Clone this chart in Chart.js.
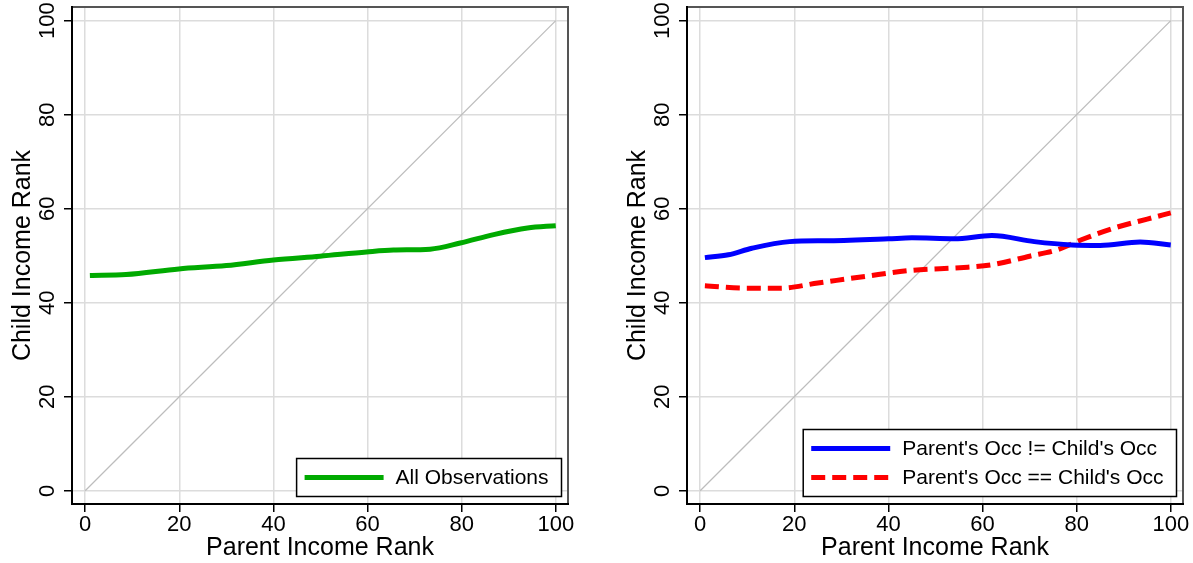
<!DOCTYPE html>
<html>
<head>
<meta charset="utf-8">
<script src="https://cdn.jsdelivr.net/npm/chart.js@4.4.1/dist/chart.umd.min.js"></script>
<style>
    body { margin: 0; background: #fff; }
    #leftChart { position: absolute; left: 0; top: 0; }
    #rightChart { position: absolute; left: 615px; top: 0; }
</style>
</head>
<body>
<canvas id="leftChart" width="596" height="563"></canvas>
<canvas id="rightChart" width="578" height="563"></canvas>
<script>
// tick values shared by both panels
const tickValues = [0, 20, 40, 60, 80, 100];

// 45 degree reference line
const diagX = [0, 100];
const diagY = [0, 100];

// left panel: all observations
const allX = [1, 8.7, 19.9, 30, 40, 49.9, 59.8, 65.5, 73.3, 79.7, 86.8, 94, 100];
const allY = [45.8, 46.0, 47.2, 47.9, 49.1, 49.9, 50.8, 51.2, 51.4, 52.7, 54.5, 55.9, 56.4];

// right panel: parent's occupation differs from child's
const diffX = [1, 6, 11, 19, 27.5, 40, 45, 54, 62, 71, 79, 85, 93.5, 100];
const diffY = [49.6, 50.2, 51.6, 53.0, 53.2, 53.6, 53.8, 53.6, 54.3, 53.0, 52.3, 52.2, 52.9, 52.3];

// right panel: same occupation
const sameX = [1, 10, 17, 25, 35, 45, 56, 62, 70, 76, 81, 88, 95, 100];
const sameY = [43.6, 43.1, 43.1, 44.2, 45.6, 46.9, 47.5, 48.1, 49.9, 51.3, 53.4, 55.9, 57.8, 59.1];

const xTitle = 'Parent Income Rank';
const yTitle = 'Child Income Rank';
const FONT = '"Liberation Sans", Arial, Helvetica, sans-serif';
const TICK_SIZE = 22;

function toPoints(xs, ys) {
    return xs.map((x, i) => ({ x: x, y: ys[i] }));
}

function diagonalDataset() {
    return {
        label: '',
        data: toPoints(diagX, diagY),
        borderColor: '#bdbdbd',
        borderWidth: 1.3,
        pointRadius: 0,
        tension: 0,
        order: 5
    };
}

// frame, rotated y tick labels and the legend box
const panelPlugin = {
    id: 'panel',
    afterDraw(chart) {
        const ctx = chart.ctx;
        const area = chart.chartArea;
        const yScale = chart.scales.y;

        ctx.save();
        // plot frame
        ctx.lineWidth = 2;
        ctx.strokeStyle = '#555';
        ctx.beginPath();
        ctx.moveTo(area.left, area.top);
        ctx.lineTo(area.right, area.top);
        ctx.lineTo(area.right, area.bottom);
        ctx.stroke();
        ctx.strokeStyle = '#000';
        ctx.beginPath();
        ctx.moveTo(area.left, area.top - 1);
        ctx.lineTo(area.left, area.bottom);
        ctx.lineTo(area.right + 1, area.bottom);
        ctx.stroke();

        // y tick labels, vertical like the original
        ctx.fillStyle = '#000';
        ctx.font = TICK_SIZE + 'px ' + FONT;
        ctx.textAlign = 'center';
        ctx.textBaseline = 'alphabetic';
        yScale.ticks.forEach(t => {
            const py = yScale.getPixelForValue(t.value);
            ctx.save();
            ctx.translate(area.left - 18.5, py);
            ctx.rotate(-Math.PI / 2);
            ctx.fillText(String(t.value), 0, 0);
            ctx.restore();
        });

        // legend in lower right corner
        const items = chart.data.datasets.filter(d => d.label);
        ctx.font = '21px ' + FONT;
        const textW = Math.max(...items.map(d => ctx.measureText(d.label).width));
        const w = 8 + 79 + 12 + textW + 13;
        const h = items.length * 29 + 9;
        const bx = area.right - 6.5 - w;
        const by = area.bottom - 7.5 - h;
        ctx.fillStyle = '#fff';
        ctx.fillRect(bx, by, w, h);
        ctx.lineWidth = 1.5;
        ctx.strokeStyle = '#000';
        ctx.strokeRect(bx, by, w, h);
        items.forEach((d, i) => {
            const cy = by + 19 + i * 29;
            ctx.beginPath();
            ctx.setLineDash(d.borderDash || []);
            ctx.lineWidth = d.borderWidth;
            ctx.strokeStyle = d.borderColor;
            ctx.moveTo(bx + 8, cy);
            ctx.lineTo(bx + 87, cy);
            ctx.stroke();
            ctx.setLineDash([]);
            ctx.fillStyle = '#000';
            ctx.textAlign = 'left';
            ctx.textBaseline = 'middle';
            ctx.fillText(d.label, bx + 99, cy + 1);
        });
        ctx.restore();
    }
};

function makeChart(canvasId, datasets, padRight) {
    const ctx = document.getElementById(canvasId).getContext('2d');
    return new Chart(ctx, {
        type: 'line',
        data: { datasets: datasets },
        options: {
            responsive: false,
            animation: false,
            layout: { padding: { top: 7, right: padRight, left: 0, bottom: 0 } },
            plugins: {
                legend: { display: false },
                tooltip: { enabled: false }
            },
            scales: {
                x: {
                    type: 'linear',
                    min: -2.8,
                    max: 102.6,
                    afterBuildTicks: scale => { scale.ticks = tickValues.map(v => ({ value: v })); },
                    afterFit: scale => { scale.height = 59; },
                    grid: { color: '#dcdcdc', lineWidth: 1.5, tickColor: '#000', tickLength: 8, tickWidth: 1.5 },
                    border: { display: false },
                    ticks: { color: '#000', font: { family: FONT, size: TICK_SIZE }, padding: 0, maxRotation: 0 },
                    title: { display: true, text: xTitle, color: '#000', font: { family: FONT, size: 25 }, padding: { top: 0, bottom: 0 } }
                },
                y: {
                    type: 'linear',
                    min: -2.8,
                    max: 102.9,
                    afterBuildTicks: scale => { scale.ticks = tickValues.map(v => ({ value: v })); },
                    afterFit: scale => { scale.width = 72; },
                    grid: { color: '#dcdcdc', lineWidth: 1.5, tickColor: '#000', tickLength: 8, tickWidth: 1.5 },
                    border: { display: false },
                    ticks: { display: false },
                    title: { display: true, text: yTitle, color: '#000', font: { family: FONT, size: 25 }, padding: { top: 8, bottom: 0 } }
                }
            },
            elements: { point: { radius: 0 } }
        },
        plugins: [panelPlugin]
    });
}

makeChart('leftChart', [
    {
        label: 'All Observations',
        data: toPoints(allX, allY),
        borderColor: '#00aa00',
        borderWidth: 5,
        pointRadius: 0,
        cubicInterpolationMode: 'monotone',
        order: 1
    },
    diagonalDataset()
], 28);

makeChart('rightChart', [
    {
        label: "Parent's Occ != Child's Occ",
        data: toPoints(diffX, diffY),
        borderColor: '#0000ff',
        borderWidth: 5,
        pointRadius: 0,
        cubicInterpolationMode: 'monotone',
        order: 1
    },
    {
        label: "Parent's Occ == Child's Occ",
        data: toPoints(sameX, sameY),
        borderColor: '#ff0000',
        borderWidth: 5,
        borderDash: [14, 7],
        pointRadius: 0,
        cubicInterpolationMode: 'monotone',
        order: 2
    },
    diagonalDataset()
], 10);
</script>
</body>
</html>
